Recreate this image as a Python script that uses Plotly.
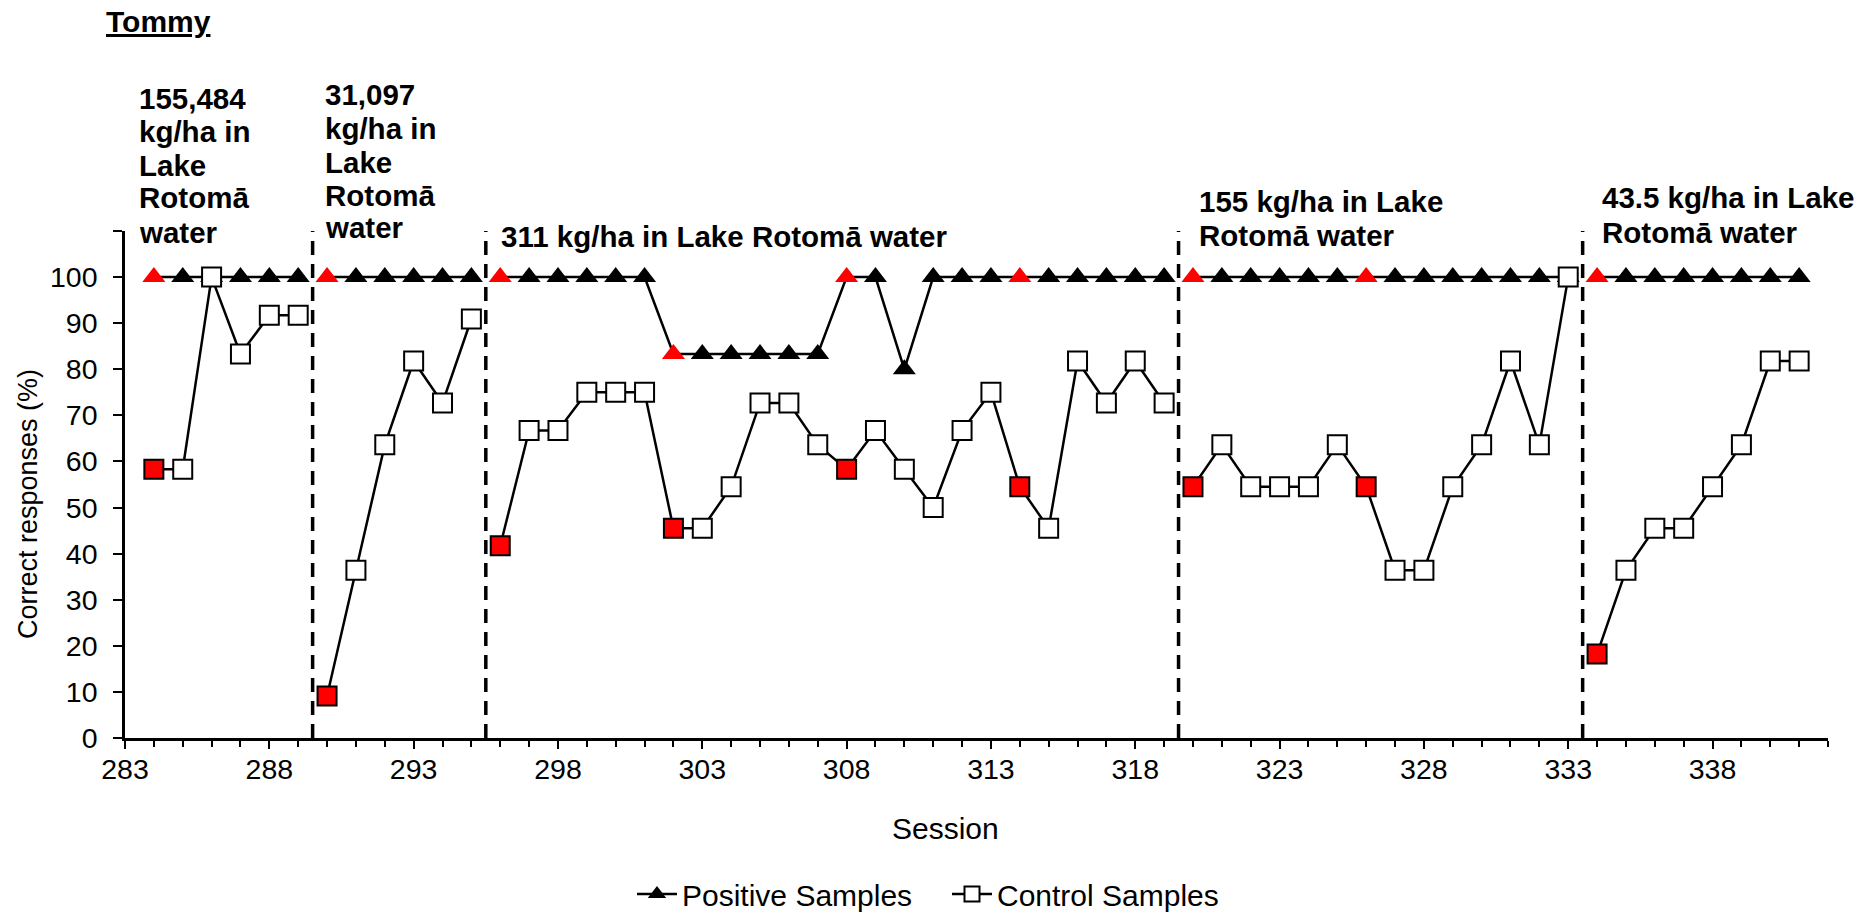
import plotly.graph_objects as go

# ---------------- data ----------------
sessions = list(range(284, 342))

positive = [100, 100, 100, 100, 100, 100,                      # 284-289
            100, 100, 100, 100, 100, 100,                      # 290-295
            100, 100, 100, 100, 100, 100,                      # 296-301
            83.3, 83.3, 83.3, 83.3, 83.3, 83.3,                # 302-307
            100, 100, 80, 100, 100, 100, 100, 100, 100, 100, 100, 100,  # 308-319
            100, 100, 100, 100, 100, 100, 100, 100, 100, 100, 100, 100, 100, 100,  # 320-333
            100, 100, 100, 100, 100, 100, 100, 100]            # 334-341

control = [58.3, 58.3, 100, 83.3, 91.7, 91.7,                  # 284-289
           9.1, 36.4, 63.6, 81.8, 72.7, 90.9,                  # 290-295
           41.7, 66.7, 66.7, 75, 75, 75, 45.5, 45.5, 54.5, 72.7, 72.7, 63.6,
           58.3, 66.7, 58.3, 50, 66.7, 75, 54.5, 45.5, 81.8, 72.7, 81.8, 72.7,  # 296-319
           54.5, 63.6, 54.5, 54.5, 54.5, 63.6, 54.5, 36.4, 36.4, 54.5, 63.6, 81.8, 63.6, 100,  # 320-333
           18.2, 36.4, 45.5, 45.5, 54.5, 63.6, 81.8, 81.8]     # 334-341

block_starts = [284, 290, 296, 320, 334]
block_boundaries = [289.5, 295.5, 319.5, 333.5]
red_sessions = [284, 290, 296, 302, 308, 314, 320, 326, 334]

block_labels = [
    ["155,484", "kg/ha in", "Lake", "Rotomā", "water"],
    ["31,097", "kg/ha in", "Lake", "Rotomā", "water"],
    ["311 kg/ha in Lake Rotomā water"],
    ["155 kg/ha in Lake", "Rotomā water"],
    ["43.5 kg/ha in Lake", "Rotomā water"],
]

y_tick_vals = list(range(0, 111, 10))
y_tick_text = [str(v) for v in range(0, 101, 10)] + [""]

FONT = "Liberation Sans, Arial, sans-serif"

# ---------------- helpers ----------------
def with_gaps(xs, ys, base_color, red="#FF0000"):
    X, Y, C = [], [], []
    for s, v in zip(xs, ys):
        if s in block_starts and X:
            X.append(None); Y.append(None); C.append("rgba(0,0,0,0)")
        X.append(s); Y.append(v)
        C.append(red if s in red_sessions else base_color)
    return X, Y, C

px, py, pc = with_gaps(sessions, positive, "black")
cx, cy, cc = with_gaps(sessions, control, "white")

fig = go.Figure()

fig.add_trace(go.Scatter(
    x=px, y=py, mode="lines+markers", showlegend=False, connectgaps=False,
    line=dict(color="black", width=2.5),
    marker=dict(symbol="triangle-up", size=20, color=pc, line=dict(width=0)),
))
fig.add_trace(go.Scatter(
    x=cx, y=cy, mode="lines+markers", showlegend=False, connectgaps=False,
    line=dict(color="black", width=2.5),
    marker=dict(symbol="square", size=19, color=cc, line=dict(color="black", width=2)),
))
# legend entries
fig.add_trace(go.Scatter(
    x=[None], y=[None], mode="lines+markers", name="Positive Samples",
    line=dict(color="black", width=2.5),
    marker=dict(symbol="triangle-up", size=16, color="black"),
))
fig.add_trace(go.Scatter(
    x=[None], y=[None], mode="lines+markers", name="Control Samples",
    line=dict(color="black", width=2.5),
    marker=dict(symbol="square", size=15, color="white", line=dict(color="black", width=2)),
))

for b in block_boundaries:
    fig.add_shape(type="line", xref="x", yref="y", x0=b, x1=b, y0=0, y1=110,
                  line=dict(color="black", width=3.5, dash="14px,9px"), layer="below")

# plot area geometry in pixels
L, R, T, B = 125, 1828, 231, 738
W, H = R - L, B - T

def paper_x(pxl):
    return (pxl - L) / W

def paper_y(pyl):
    return (B - pyl) / H

# block annotations: (left px, list of line-centre px)
label_pos = [
    (138, [98, 132, 165, 198, 232]),
    (324, [95, 128, 162, 195, 228]),
    (500, [236]),
    (1198, [202, 235]),
    (1601, [198, 232]),
]
for lines, (lx, centers) in zip(block_labels, label_pos):
    for txt, cyp in zip(lines, centers):
        fig.add_annotation(text="<b>%s</b>" % txt, xref="paper", yref="paper",
                           x=paper_x(lx), y=paper_y(cyp), xanchor="left", yanchor="middle",
                           showarrow=False, borderpad=0,
                           font=dict(family=FONT, size=29.5, color="black"))

fig.add_annotation(text="<b><u>Tommy</u></b>", xref="paper", yref="paper",
                   x=paper_x(105), y=paper_y(22), xanchor="left", yanchor="middle",
                   showarrow=False, borderpad=0, font=dict(family=FONT, size=30, color="black"))

fig.add_annotation(text="Correct responses (%)", xref="paper", yref="paper",
                   x=paper_x(28), y=paper_y(504), xanchor="center", yanchor="middle",
                   textangle=-90, showarrow=False, font=dict(family=FONT, size=27, color="black"))

fig.add_annotation(text="Session", xref="paper", yref="paper",
                   x=paper_x(945), y=paper_y(828), xanchor="center", yanchor="middle",
                   showarrow=False, font=dict(family=FONT, size=30, color="black"))

fig.update_xaxes(range=[283, 342], tick0=283, dtick=5, ticks="outside", ticklen=8,
                 tickwidth=2, tickcolor="black", showline=True, linewidth=2.5, linecolor="black",
                 showgrid=False, zeroline=False, ticklabelstandoff=-4, automargin=False,
                 tickfont=dict(family=FONT, size=28.5, color="black"),
                 minor=dict(dtick=1, tick0=283, ticks="outside", ticklen=6, tickwidth=2,
                            tickcolor="black", showgrid=False))
fig.update_yaxes(range=[0, 110], tickvals=y_tick_vals, ticktext=y_tick_text, ticks="outside",
                 ticklen=9, tickwidth=2, tickcolor="black", showline=True, linewidth=2.5,
                 linecolor="black", showgrid=False, zeroline=False, ticklabelstandoff=10,
                 automargin=False,
                 tickfont=dict(family=FONT, size=28.5, color="black"))

fig.update_layout(
    width=1875, height=917,
    margin=dict(l=L, r=1875 - R, t=T, b=917 - B, pad=0, autoexpand=False),
    paper_bgcolor="white", plot_bgcolor="white",
    font=dict(family=FONT, size=27, color="black"),
    legend=dict(orientation="h", xref="paper", x=paper_x(947), xanchor="center",
                yref="container", y=1 - 894 / 917, yanchor="middle",
                font=dict(family=FONT, size=30, color="black"),
                entrywidth=260, entrywidthmode="pixels",
                itemwidth=40, bgcolor="rgba(0,0,0,0)"),
)

fig.write_html("out.html")
